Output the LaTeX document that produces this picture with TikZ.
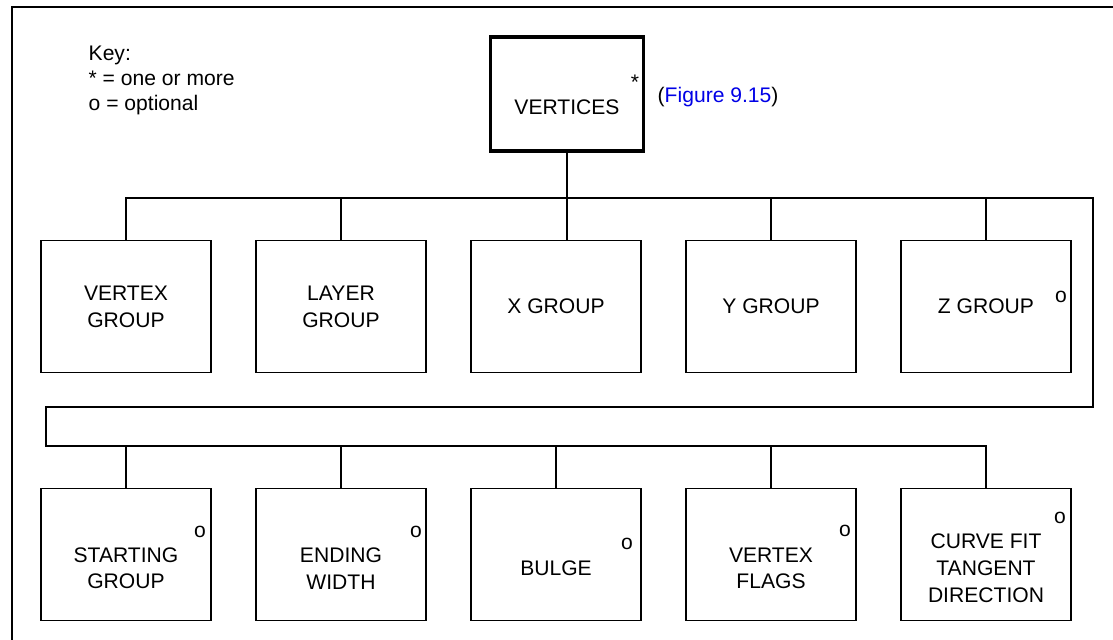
\documentclass[tikz,border=0pt]{standalone}
\usepackage{fontspec}
\setmainfont{Liberation Sans}
\usepackage{xcolor}
\usepackage{tikz}
\definecolor{figblue}{RGB}{0,0,230}
\newcommand{\lowtop}{\rule{0pt}{24pt}}

\begin{document}
\begin{tikzpicture}[
  box/.style={draw, rectangle, align=center, line width=0.8pt, inner sep=0pt, minimum width=3.4cm, minimum height=2.65cm},
  topbox/.style={box, line width=2pt, minimum width=3.06cm, minimum height=2.28cm},
  optmark/.style={anchor=base, inner sep=0pt},
  line width=0.8pt, every node/.style={font=\fontsize{12}{15.3}\selectfont}
]
\useasboundingbox (0,0) rectangle (22.26,12.8);
\draw[line width=1.5pt] (0.24,0) |- (22.26,12.66);

\node[anchor=north west, align=left, inner sep=0pt, font=\fontsize{12}{14.2}\selectfont] (key) at (1.76,11.9) {Key:\\* = one or more\\o = optional};

\node[topbox] (vertices) at (11.34,10.92) {\lowtop VERTICES};
\node[optmark] (vstar) at (12.70,11.0) {*};
\node[anchor=base west, inner sep=0pt] (figref) at (13.14,10.74) {(\textcolor{figblue}{Figure 9.15})};

\node[box] (vgroup) at (2.52,6.67)  {VERTEX\\GROUP};
\node[box] (lgroup) at (6.82,6.67)  {LAYER\\GROUP};
\node[box] (xgroup) at (11.12,6.67) {X GROUP};
\node[box] (ygroup) at (15.42,6.67) {Y GROUP};
\node[box] (zgroup) at (19.72,6.67) {Z GROUP};
\node[optmark] (zopt) at (21.22,6.75) {o};

\node[box] (start)  at (2.52,1.71)  {\lowtop STARTING\\GROUP};
\node[box] (ending) at (6.82,1.71)  {\lowtop ENDING\\WIDTH};
\node[box] (bulge)  at (11.12,1.71) {\lowtop BULGE};
\node[box] (flags)  at (15.42,1.71) {\lowtop VERTEX\\FLAGS};
\node[box] (curve)  at (19.72,1.71) {\lowtop CURVE FIT\\TANGENT\\DIRECTION};
\node[optmark] (sopt) at (4.00,2.05)  {o};
\node[optmark] (eopt) at (8.32,2.05)  {o};
\node[optmark] (bopt) at (12.54,1.81) {o};
\node[optmark] (fopt) at (16.90,2.07) {o};
\node[optmark] (copt) at (21.20,2.33) {o};

\coordinate (busR) at (21.86,8.84);
\coordinate (busL) at (0.92,4.66);
\coordinate (bus2) at (0.92,3.88);

\draw (vgroup.north) |- (busR) |- (busL) -- (bus2) -| (curve.north);
\draw (vertices.south) -- (vertices.south |- xgroup.north);
\draw (lgroup.north) -- (lgroup.north |- busR);
\draw (ygroup.north) -- (ygroup.north |- busR);
\draw (zgroup.north) -- (zgroup.north |- busR);
\draw (start.north)  -- (start.north |- bus2);
\draw (ending.north) -- (ending.north |- bus2);
\draw (bulge.north)  -- (bulge.north |- bus2);
\draw (flags.north)  -- (flags.north |- bus2);
\end{tikzpicture}
\end{document}
